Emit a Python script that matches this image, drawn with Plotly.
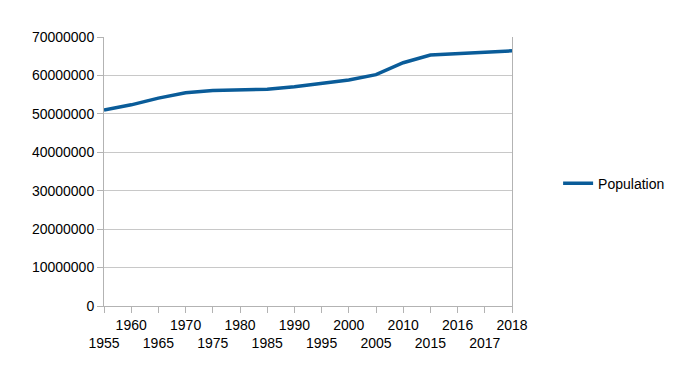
import plotly.graph_objects as go

years = ["1955", "1960", "1965", "1970", "1975", "1980", "1985", "1990",
         "1995", "2000", "2005", "2010", "2015", "2016", "2017", "2018"]
population = [51000000, 52350000, 54100000, 55500000, 56050000, 56150000,
              56400000, 57050000, 57850000, 58800000, 60200000, 63300000,
              65300000, 65700000, 66050000, 66400000]
y_ticks = [0, 10000000, 20000000, 30000000, 40000000, 50000000, 60000000, 70000000]

tick_text = [("<br>" + y if i % 2 == 0 else y) for i, y in enumerate(years)]

fig = go.Figure()
fig.add_trace(go.Scatter(
    x=years, y=population, mode="lines", name="Population",
    line=dict(color="#0a5c99", width=3.5),
))

fig.update_layout(
    width=674, height=361,
    margin=dict(l=96, r=170, t=29, b=63),
    paper_bgcolor="white", plot_bgcolor="white",
    font=dict(family="Liberation Sans, Arial, sans-serif", size=14, color="black"),
    showlegend=True,
    legend=dict(x=1.113, y=0.455, xanchor="left", yanchor="middle",
                font=dict(size=14), bgcolor="rgba(0,0,0,0)"),
)
fig.update_xaxes(
    type="category", range=[0, len(years) - 1],
    tickmode="array", tickvals=years, ticktext=tick_text,
    ticks="outside", ticklen=6, tickcolor="#b3b3b3",
    showline=True, linecolor="#b3b3b3", linewidth=1,
    showgrid=False, zeroline=False, tickangle=0,
)
fig.update_yaxes(
    range=[0, 70000000], tickmode="array", tickvals=y_ticks,
    ticktext=[str(v) for v in y_ticks],
    ticks="outside", ticklen=6, tickcolor="#b3b3b3",
    showline=True, linecolor="#b3b3b3", linewidth=1, mirror=True,
    showgrid=True, gridcolor="#c8c8c8", gridwidth=1, zeroline=False,
)

fig.write_html("out.html")
